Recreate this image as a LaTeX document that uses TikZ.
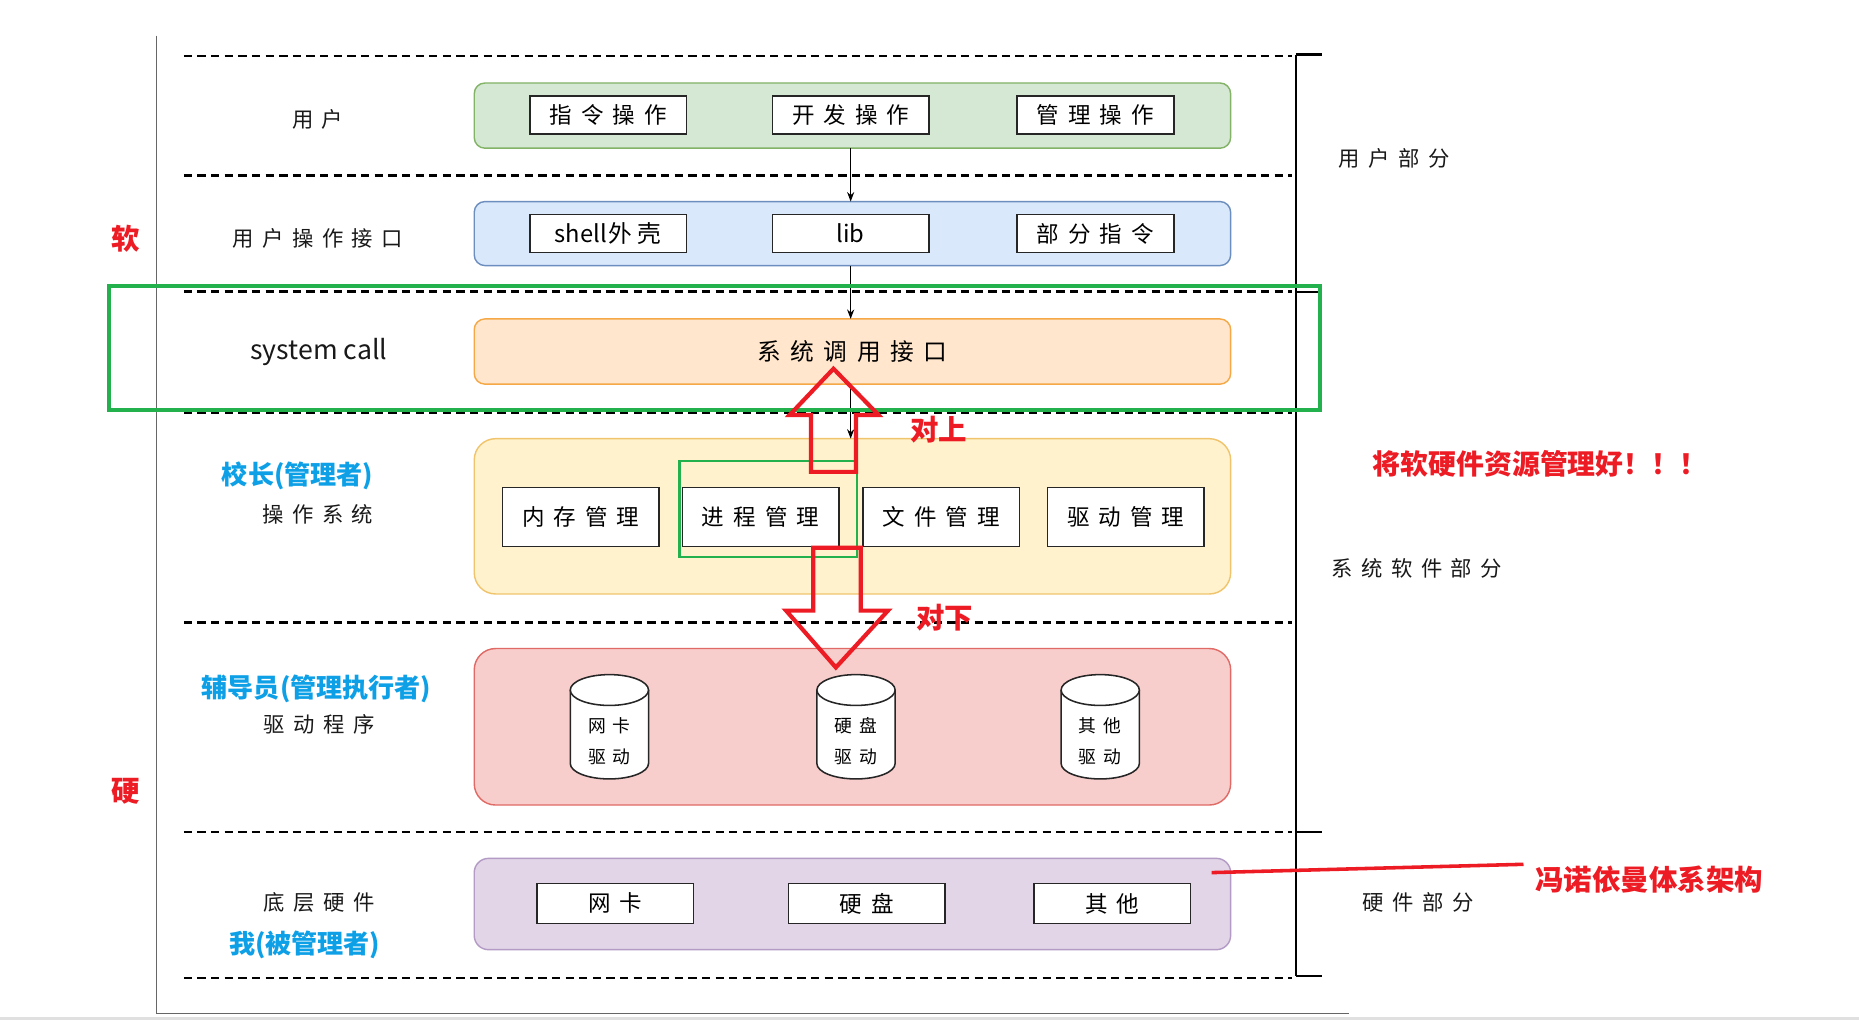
\documentclass[tikz,border=0pt]{standalone}
\usepackage{fontspec}
\setmainfont{Noto Sans CJK SC}
\newfontfamily\hw[LetterSpace=40]{Noto Sans CJK SC}
\newcommand\nols[1]{{\addfontfeature{LetterSpace=0}#1}}
\usetikzlibrary{arrows.meta}
\definecolor{gfill}{HTML}{D5E8D4}\definecolor{gdraw}{HTML}{82B366}
\definecolor{bfill}{HTML}{DAE8FC}\definecolor{bdraw}{HTML}{6C8EBF}
\definecolor{ofill}{HTML}{FFE6CC}\definecolor{odraw}{HTML}{F5A845}
\definecolor{yfill}{HTML}{FFF2CC}\definecolor{ydraw}{HTML}{F0C46C}
\definecolor{rfill}{HTML}{F8CECC}\definecolor{rdraw}{HTML}{E06A66}
\definecolor{pfill}{HTML}{E1D5E7}\definecolor{pdraw}{HTML}{B39BC6}
\definecolor{pred}{HTML}{ED1C24}
\definecolor{ggreen}{HTML}{22B14C}
\definecolor{lblue}{HTML}{0EA0E6}
\begin{document}
\begin{tikzpicture}[x=1pt,y=-1pt,
  layer/.style={rounded corners=9pt, line width=1.2pt, minimum width=638pt, inner sep=0pt, outer sep=0pt},
  ibox/.style={draw=black!85, line width=1.3pt, fill=white, minimum width=132pt, inner sep=0pt, outer sep=0pt, font=\hw\fontsize{19}{21}\selectfont},
  lbl/.style={inner sep=0pt, font=\hw\fontsize{18}{20}\selectfont, text=black!90},
  cyltext/.style={inner sep=0pt, font=\hw\fontsize{15}{17}\selectfont},
  bluet/.style={inner sep=0pt, text=lblue, font=\bfseries\fontsize{22}{24}\selectfont},
  redt/.style={inner sep=0pt, text=pred, font=\bfseries\fontsize{24}{26}\selectfont},
  dline/.style={line width=2pt, dash pattern=on 7pt off 4.5pt},
  conn/.style={-{Stealth[length=8pt,width=6pt]}, line width=1pt},
  bigarrow/.style={draw=pred, line width=3.5pt, line join=miter}
]
\fill[white] (0,0) rectangle (1568,860);
\useasboundingbox (0,0) rectangle (1568,860);

% frame
\draw[black!60, line width=1pt] (132,30) -- (132,855) -- (1138,855);
\draw[black!12, line width=2pt] (0,859) -- (1568,859);

% dashed separators
\foreach \yy in {47,148,246,348,525,702,825}
  \draw[dline] (155,\yy) -- (1090,\yy);

% right bracket
\draw[line width=1.8pt] (1093,46) -- (1093,823);
\foreach \yy in {46,246,702,823}
  \draw[line width=1.8pt] (1093,\yy) -- (1115,\yy);

% layer boxes
\node[layer, fill=gfill, draw=gdraw, minimum height=55pt] (L1) at (719,97.5) {};
\node[layer, fill=bfill, draw=bdraw, minimum height=54pt] (L2) at (719,197) {};
\node[layer, fill=ofill, draw=odraw, minimum height=55pt, font=\hw\fontsize{20}{22}\selectfont] (L3) at (719,296.5) {系统调用接口};
\node[layer, rounded corners=18pt, fill=yfill, draw=ydraw, minimum height=131pt] (L4) at (719,435.5) {};
\node[layer, rounded corners=18pt, fill=rfill, draw=rdraw, minimum height=132pt] (L5) at (719,613) {};
\node[layer, rounded corners=12pt, fill=pfill, draw=pdraw, minimum height=77pt] (L6) at (719,762.5) {};

% inner boxes
\node[ibox, minimum height=32pt] (u1) at (513,97) {指令操作};
\node[ibox, minimum height=32pt] (u2) at (717.5,97) {开发操作};
\node[ibox, minimum height=32pt] (u3) at (924,97) {管理操作};
\node[ibox, minimum height=32pt, font=\fontsize{20}{22}\selectfont] (i1) at (513,197) {shell\hspace{1pt}外\hspace{5pt}壳};
\node[ibox, minimum height=32pt, font=\fontsize{20}{22}\selectfont] (i2) at (717.5,197) {lib};
\node[ibox, minimum height=32pt] (i3) at (924,197) {部分指令};
\node[ibox, minimum height=50pt] (k1) at (490,436) {内存管理};
\node[ibox, minimum height=50pt] (k2) at (641.5,436) {进程管理};
\node[ibox, minimum height=50pt] (k3) at (794,436) {文件管理};
\node[ibox, minimum height=50pt] (k4) at (949.5,436) {驱动管理};
\node[ibox, minimum height=34pt] (h1) at (519,762) {网卡};
\node[ibox, minimum height=34pt] (h2) at (731,762) {硬盘};
\node[ibox, minimum height=34pt] (h3) at (938,762) {其他};

% cylinders
\foreach \cx/\a/\nm in {514/网卡/a, 722/硬盘/b, 928/其他/c}{
  \fill[white] (\cx-33,582) rectangle (\cx+33,644);
  \fill[white] (\cx,644) ellipse [x radius=33, y radius=13];
  \draw[line width=1.3pt, black!85] (\cx-33,582) -- (\cx-33,644) arc[start angle=180, end angle=0, x radius=33, y radius=13] -- (\cx+33,582);
  \draw[line width=1.3pt, black!85, fill=white] (\cx,582) ellipse [x radius=33, y radius=13];
  \node[cyltext] (cyl\nm1) at (\cx,612) {\a};
  \node[cyltext] (cyl\nm2) at (\cx,638) {驱动};
}

% black connectors
\draw[conn] (L1.south -| u2) -- (L2.north -| u2);
\draw[conn] (L2.south -| i2) -- (L3.north -| i2);
\draw[conn] (L3.south -| i2) -- (L4.north -| i2);

% green highlight rectangles
\draw[ggreen, line width=3.5pt] (92,241) rectangle (1113,346);
\draw[ggreen, line width=2pt] (573,389) rectangle (723,470);

% red block arrows
\draw[bigarrow] (684,398) -- (684,350) -- (666,350) -- (703,311) -- (741,350) -- (722,350) -- (722,398) -- cycle;
\draw[bigarrow] (686,462) -- (686,515) -- (663,515) -- (705,563) -- (749,515) -- (726,515) -- (726,462) -- cycle;

% red line
\draw[pred, line width=3pt] (1022,736) -- (1285,729);

% left labels
\node[lbl] (n1) at (268,101) {用户};
\node[lbl] (n2) at (268,201) {用户操作接口};
\node[inner sep=0pt, font=\fontsize{22.5}{24}\selectfont, text=black!90] (n3) at (269,297) {system call};
\node[bluet] (n4) at (251,401) {校长(管理者)};
\node[lbl] (n5) at (268,434) {操作系统};
\node[bluet] (n6) at (267,581) {辅导员(管理执行者)};
\node[lbl] (n7) at (269,611) {驱动程序};
\node[lbl] (n8) at (269,761) {底层硬件};
\node[bluet] (n9) at (257,797) {我(被管理者)};

% right labels
\node[lbl] (r1) at (1176,134) {用户部分};
\node[lbl] (r2) at (1195,479) {系统软件部分};
\node[lbl] (r3) at (1196,761) {硬件部分};

% red texts
\node[redt] (t1) at (792,362) {对上};
\node[redt] (t2) at (797,521) {对下};
\node[redt, font=\bfseries\fontsize{23.5}{25}\selectfont] (t3) at (1299,391) {将软硬件资源管理好！！！};
\node[redt] (t4) at (1391,742) {冯诺依曼体系架构};
\node[redt] (t5) at (106,201) {软};
\node[redt] (t6) at (106,667) {硬};
\end{tikzpicture}
\end{document}
